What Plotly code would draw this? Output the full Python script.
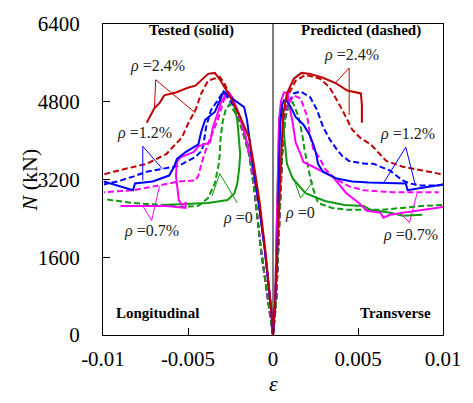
import plotly.graph_objects as go

# ---------------- data (strain, N in kN) ----------------
# Longitudinal (negative strain) - tested (solid)
LT24_x = [0, -0.0001, -0.00044, -0.00078, -0.00113, -0.00141, -0.00193, -0.0025, -0.00308, -0.00342, -0.00382, -0.00456, -0.00497, -0.00571, -0.0064, -0.00668, -0.00697, -0.0072, -0.00743]
LT24_y = [0, 503, 1711, 2717, 3522, 4065, 4488, 4891, 5233, 5394, 5374, 5132, 5092, 4991, 4931, 4770, 4669, 4528, 4367]
LT12_x = [0, -0.0001, -0.0005, -0.00084, -0.00119, -0.00136, -0.00153, -0.0017, -0.0021, -0.0025, -0.0029, -0.00342, -0.00399, -0.00422, -0.00439, -0.00514, -0.00565, -0.00582, -0.00611, -0.00708, -0.00812, -0.00823, -0.00995]
LT12_y = [0, 503, 1811, 2717, 3522, 3965, 4428, 4689, 4790, 4891, 5011, 4589, 4428, 4186, 3925, 3764, 3623, 3462, 3281, 3160, 3120, 2979, 3160]
LT07_x = [0, -0.0001, -0.0005, -0.00084, -0.00124, -0.00164, -0.0021, -0.00239, -0.00267, -0.00308, -0.00325, -0.00353, -0.0037, -0.00439, -0.00468, -0.00542, -0.00565, -0.00571, -0.00554, -0.00536, -0.00514, -0.00514, -0.00628, -0.00897]
LT07_y = [0, 503, 1811, 2717, 3522, 4126, 4629, 4891, 5011, 4770, 4569, 4287, 3965, 3884, 3764, 3663, 3562, 3281, 2777, 2677, 2717, 2616, 2657, 2657]
LT0_x = [0, -0.0001, -0.0005, -0.00084, -0.00119, -0.00153, -0.00182, -0.0021, -0.00233, -0.0021, -0.00199, -0.00193, -0.00199, -0.0021, -0.00227, -0.00267, -0.00382, -0.00651]
LT0_y = [0, 503, 1811, 2717, 3421, 3925, 4367, 4649, 4790, 4428, 4025, 3723, 3421, 3120, 2918, 2777, 2717, 2677]

# Longitudinal - predicted (dashed)
LP24_x = [0, -0.00021, -0.00073, -0.00107, -0.00136, -0.00182, -0.00239, -0.00285, -0.00313, -0.00382, -0.00422, -0.00456, -0.00497, -0.00536, -0.00628, -0.00743, -0.00823, -0.00938, -0.01]
LP24_y = [0, 503, 1811, 2918, 3723, 4327, 4830, 5172, 5313, 5233, 4971, 4629, 4367, 4065, 3723, 3522, 3462, 3361, 3301]
LP12_x = [0, -0.00021, -0.00073, -0.00113, -0.00141, -0.00182, -0.00227, -0.00267, -0.00296, -0.00325, -0.00365, -0.00393, -0.00411, -0.00422, -0.00456, -0.00554, -0.00651, -0.00743, -0.00823, -0.00915, -0.00995]
LP12_y = [0, 503, 1811, 3120, 3824, 4327, 4689, 4891, 4991, 4830, 4629, 4287, 3884, 3784, 3663, 3482, 3421, 3361, 3260, 3160, 3099]
LP07_x = [0, -0.00021, -0.00073, -0.00107, -0.00141, -0.00182, -0.00222, -0.00256, -0.0029, -0.00325, -0.00348, -0.00388, -0.00416, -0.00439, -0.00456, -0.00554, -0.00668, -0.00823, -0.00995]
LP07_y = [0, 503, 1811, 2918, 3723, 4226, 4730, 4971, 4830, 4428, 4226, 3884, 3582, 3281, 3180, 3160, 3079, 2979, 2938]
LP0_x = [0, -0.00021, -0.00073, -0.00107, -0.00141, -0.00182, -0.00222, -0.00256, -0.00279, -0.00296, -0.00308, -0.00313, -0.00319, -0.00342, -0.00382, -0.00439, -0.00536, -0.00668, -0.00823, -0.00955, -0.00995]
LP0_y = [0, 503, 1811, 2918, 3723, 4226, 4569, 4750, 4629, 4387, 4065, 3723, 3522, 3120, 2818, 2657, 2636, 2677, 2717, 2777, 2797]

# Transverse (positive strain) - tested (solid)
RT24_x = [0, 0.00013, 0.00025, 0.00036, 0.00048, 0.00059, 0.00082, 0.00122, 0.00168, 0.00219, 0.00294, 0.00374, 0.00437, 0.00517, 0.00523, 0.00523]
RT24_y = [0, 704, 1711, 2717, 3723, 4528, 4971, 5273, 5394, 5374, 5293, 5172, 5032, 4971, 4730, 4367]
RT12_x = [0, 0.00013, 0.00025, 0.0003, 0.00036, 0.00042, 0.00053, 0.00065, 0.00082, 0.00105, 0.00133, 0.00179, 0.00214, 0.00237, 0.00254, 0.00265, 0.00294, 0.00374, 0.00466, 0.00563, 0.00781, 0.00792, 0.00861, 0.00935, 0.01]
RT12_y = [0, 704, 1711, 2717, 3723, 4327, 4730, 4830, 4810, 4689, 4488, 4327, 4126, 3925, 3723, 3522, 3361, 3220, 3160, 3140, 3120, 2979, 3019, 3059, 3099]
RT07_x = [0, 0.00013, 0.00019, 0.00025, 0.0003, 0.00036, 0.00048, 0.00065, 0.00088, 0.00093, 0.00116, 0.00133, 0.00162, 0.00179, 0.00259, 0.00351, 0.00431, 0.00506, 0.00552, 0.00632, 0.00649, 0.00689, 0.00763, 0.00878, 0.01]
RT07_y = [0, 704, 1711, 2717, 3723, 4428, 4830, 4991, 4991, 4770, 4367, 3965, 3723, 3562, 3421, 3260, 2918, 2717, 2556, 2516, 2415, 2475, 2516, 2576, 2636]
RT0_x = [0, 0.00013, 0.00019, 0.00025, 0.0003, 0.00036, 0.00048, 0.00059, 0.00065, 0.00076, 0.00082, 0.00116, 0.00191, 0.00305, 0.0042, 0.00534, 0.00574, 0.00689, 0.00763, 0.00878]
RT0_y = [0, 704, 1711, 2717, 3723, 4428, 4770, 4528, 4126, 3723, 3522, 3220, 2918, 2757, 2677, 2657, 2576, 2516, 2455, 2475]

# Transverse - predicted (dashed)
RP24_x = [0, 0.00019, 0.0003, 0.00042, 0.00053, 0.00065, 0.00088, 0.00133, 0.00191, 0.00277, 0.00334, 0.00408, 0.00466, 0.00517, 0.00574, 0.00666, 0.00763, 0.00878, 0.00975, 0.01]
RP24_y = [0, 704, 1711, 2717, 3723, 4528, 4931, 5233, 5354, 5273, 5092, 4629, 4226, 4045, 3925, 3582, 3462, 3381, 3321, 3281]
RP12_x = [0, 0.00019, 0.0003, 0.00042, 0.00053, 0.0007, 0.00093, 0.00122, 0.00162, 0.00219, 0.00259, 0.00294, 0.00334, 0.00374, 0.00408, 0.00448, 0.00546, 0.00592, 0.00689, 0.00763, 0.00803, 0.00861, 0.00975, 0.01]
RP12_y = [0, 704, 1711, 2717, 3723, 4428, 4790, 4971, 5011, 4891, 4629, 4287, 4025, 3824, 3683, 3582, 3522, 3522, 3381, 3180, 3120, 3079, 3079, 3099]
RP07_x = [0, 0.00019, 0.0003, 0.00042, 0.00053, 0.0007, 0.00088, 0.00122, 0.00162, 0.00202, 0.00219, 0.00237, 0.00277, 0.00305, 0.00363, 0.00448, 0.00534, 0.00706, 0.00975]
RP07_y = [0, 704, 1711, 2717, 3723, 4428, 4730, 4931, 4870, 4488, 4086, 3824, 3623, 3421, 3220, 3059, 2979, 2938, 2938]
RP0_x = [0, 0.00019, 0.0003, 0.00042, 0.00053, 0.0007, 0.00093, 0.00116, 0.00151, 0.00174, 0.00185, 0.00208, 0.00231, 0.00265, 0.00345, 0.00437, 0.00632, 0.00763, 0.00878, 0.01]
RP0_y = [0, 704, 1711, 2717, 3723, 4428, 4730, 4790, 4488, 4086, 3824, 3421, 3059, 2717, 2616, 2576, 2576, 2616, 2657, 2677]

# Labels and leader lines (apex, end on solid/dashed curve)
label_text = ["2.4%", "1.2%", "0.7%", "0", "2.4%", "1.2%", "0.7%", "0"]
label_x = [-0.0068, -0.00754, -0.00714, -0.00204, 0.0046, 0.00792, 0.00809, 0.00156]
label_y = [5474, 4086, 2073, 2355, 5696, 4065, 1992, 2455]
leader_x = [[-0.00697, -0.0069, -0.00456], [-0.00766, -0.00766, -0.00651], [-0.00766, -0.00714, -0.00668], [-0.00359, -0.00313, -0.0021],
            [0.00363, 0.00448, 0.00448], [0.00649, 0.00781, 0.00838], [0.00746, 0.00803, 0.00849], [0.00122, 0.00162, 0.00237]]
leader_y = [[4689, 5253, 4569], [3180, 3884, 3421], [2657, 2355, 3059], [2858, 3321, 2717],
            [5172, 5494, 4528], [3120, 3864, 3079], [2516, 2314, 2938], [3220, 2818, 3160]]

x_ticks = [-0.01, -0.005, 0, 0.005, 0.01]
x_tick_text = ["-0.01", "-0.005", "0", "0.005", "0.01"]
y_ticks = [0, 1600, 3200, 4800, 6400]

RED, BLUE, MAG, GRN = "#c00000", "#0000ff", "#ff00ff", "#109a10"
label_colors = [RED, BLUE, MAG, GRN, RED, BLUE, MAG, GRN]
DASH = "6px,3px"
FONT = "Liberation Serif"

fig = go.Figure()

def add(x, y, color, dashed):
    fig.add_trace(go.Scatter(x=x, y=y, mode="lines",
                             line=dict(color=color, width=2, dash=DASH if dashed else "solid"),
                             hoverinfo="skip", showlegend=False))

# dashed (predicted) first, then solid (tested)
for (x, y, c) in [(LP24_x, LP24_y, RED), (LP12_x, LP12_y, BLUE), (LP07_x, LP07_y, MAG), (LP0_x, LP0_y, GRN),
                  (RP24_x, RP24_y, RED), (RP12_x, RP12_y, BLUE), (RP07_x, RP07_y, MAG), (RP0_x, RP0_y, GRN)]:
    add(x, y, c, True)
for (x, y, c) in [(LT0_x, LT0_y, GRN), (LT07_x, LT07_y, MAG), (LT12_x, LT12_y, BLUE), (LT24_x, LT24_y, RED),
                  (RT0_x, RT0_y, GRN), (RT07_x, RT07_y, MAG), (RT12_x, RT12_y, BLUE), (RT24_x, RT24_y, RED)]:
    add(x, y, c, False)

for lx, ly, c in zip(leader_x, leader_y, label_colors):
    fig.add_trace(go.Scatter(x=lx, y=ly, mode="lines", line=dict(color=c, width=1),
                             hoverinfo="skip", showlegend=False))

annotations = []
for t, x, y in zip(label_text, label_x, label_y):
    annotations.append(dict(x=x, y=y, xref="x", yref="y", text="<i>ρ</i> =" + t, showarrow=False,
                            yshift=3, font=dict(family=FONT, size=16, color="#222222")))

for t, x, y in [("Tested (solid)", -0.0048, 6179), ("Predicted (dashed)", 0.00517, 6179),
                ("Longitudinal", -0.0068, 362), ("Transverse", 0.00723, 362)]:
    annotations.append(dict(x=x, y=y, xref="x", yref="y", text="<b>" + t + "</b>", showarrow=False,
                            yshift=4, font=dict(family=FONT, size=15, color="black")))

annotations.append(dict(x=0.5, y=-0.155, xref="paper", yref="paper", text="<i>ε</i>", showarrow=False,
                        font=dict(family=FONT, size=22, color="black"), yanchor="middle"))
annotations.append(dict(x=-0.215, y=0.5, xref="paper", yref="paper", text="<i>N</i> (kN)", showarrow=False,
                        textangle=-90, font=dict(family=FONT, size=22, color="black"), xanchor="center"))

fig.add_shape(type="line", x0=0, x1=0, y0=0, y1=1, xref="x", yref="paper",
              line=dict(color="black", width=1), layer="below")

fig.update_layout(
    width=473, height=403,
    margin=dict(l=103, r=21, t=17, b=68),
    paper_bgcolor="white", plot_bgcolor="white",
    annotations=annotations,
    font=dict(family=FONT, size=22, color="black"),
)
fig.update_xaxes(range=[-0.01, 0.01], tickvals=x_ticks, ticktext=x_tick_text, ticks="inside", ticklen=7,
                 tickcolor="black", showline=True, linecolor="black", linewidth=1, mirror=True,
                 showgrid=False, zeroline=False, ticklabelstandoff=5,
                 tickfont=dict(family=FONT, size=21, color="black"))
fig.update_yaxes(range=[0, 6400], tickvals=y_ticks, ticks="inside", ticklen=7,
                 tickcolor="black", showline=True, linecolor="black", linewidth=1, mirror=True,
                 showgrid=False, zeroline=False, ticklabelstandoff=18,
                 tickfont=dict(family=FONT, size=21, color="black"))

fig.write_html("out.html")
